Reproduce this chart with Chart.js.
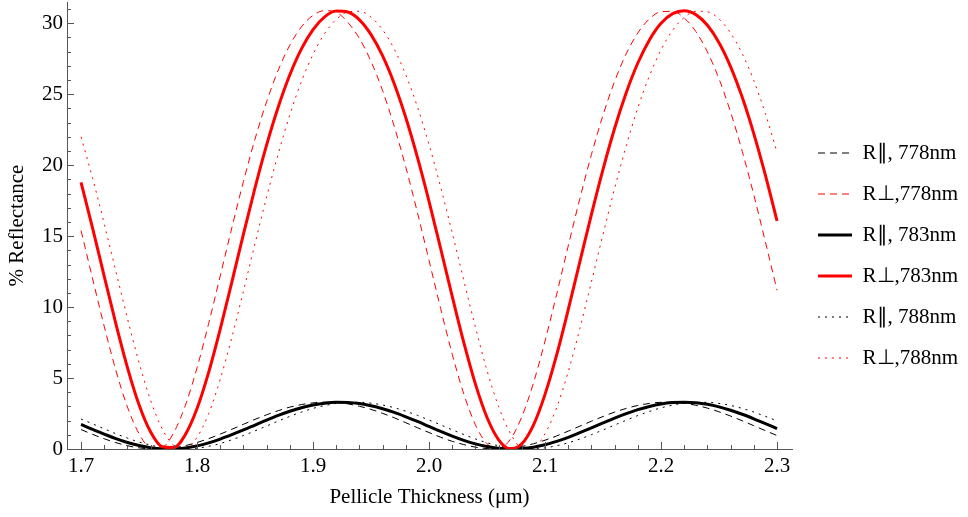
<!DOCTYPE html>
<html>
<head>
<meta charset="utf-8">
<script src="https://cdn.jsdelivr.net/npm/chart.js@4"></script>
<style>
  html, body { margin: 0; padding: 0; background: #ffffff; }
  #c { display: block; }
</style>
</head>
<body>
<canvas id="c" width="968" height="517"></canvas>
<script>
// ---- data ----
const thickness = [
  1.70, 1.71, 1.72, 1.73, 1.74, 1.75, 1.76, 1.77, 1.78, 1.79,
  1.80, 1.81, 1.82, 1.83, 1.84, 1.85, 1.86, 1.87, 1.88, 1.89,
  1.90, 1.91, 1.92, 1.93, 1.94, 1.95, 1.96, 1.97, 1.98, 1.99,
  2.00, 2.01, 2.02, 2.03, 2.04, 2.05, 2.06, 2.07, 2.08, 2.09,
  2.10, 2.11, 2.12, 2.13, 2.14, 2.15, 2.16, 2.17, 2.18, 2.19,
  2.20, 2.21, 2.22, 2.23, 2.24, 2.25, 2.26, 2.27, 2.28, 2.29,
  2.30
];

const rPar778 = [
  1.37, 1.03, 0.72, 0.45, 0.23, 0.08, 0.01, 0.01, 0.09, 0.24,
  0.46, 0.73, 1.05, 1.39, 1.74, 2.09, 2.41, 2.70, 2.95, 3.13,
  3.25, 3.30, 3.28, 3.18, 3.01, 2.79, 2.51, 2.20, 1.85, 1.50,
  1.16, 0.83, 0.54, 0.31, 0.13, 0.03, 0.00, 0.05, 0.18, 0.37,
  0.62, 0.92, 1.26, 1.61, 1.96, 2.29, 2.60, 2.86, 3.07, 3.21,
  3.29, 3.29, 3.22, 3.08, 2.88, 2.62, 2.32, 1.99, 1.64, 1.29,
  0.95
];
const rPerp778 = [
  15.39, 11.99, 8.64, 5.55, 2.96, 1.08, 0.11, 0.14, 1.17, 3.09,
  5.72, 8.84, 12.20, 15.59, 18.85, 21.85, 24.48, 26.70, 28.46, 29.75,
  30.56, 30.89, 30.78, 30.06, 28.93, 27.31, 25.24, 22.73, 19.85, 16.66,
  13.29, 9.90, 6.68, 3.87, 1.70, 0.37, 0.01, 0.67, 2.27, 4.65,
  7.61, 10.90, 14.31, 17.64, 20.75, 23.53, 25.91, 27.85, 29.32, 30.31,
  30.82, 30.84, 30.37, 29.42, 27.98, 26.08, 23.73, 20.98, 17.90, 14.58,
  11.18
];
const rPar783 = [
  1.73, 1.38, 1.05, 0.73, 0.46, 0.25, 0.09, 0.01, 0.01, 0.08,
  0.22, 0.43, 0.70, 1.01, 1.34, 1.69, 2.04, 2.37, 2.66, 2.91,
  3.10, 3.23, 3.29, 3.28, 3.20, 3.05, 2.84, 2.58, 2.27, 1.94,
  1.59, 1.24, 0.91, 0.61, 0.36, 0.17, 0.05, 0.00, 0.03, 0.13,
  0.30, 0.54, 0.82, 1.15, 1.49, 1.84, 2.18, 2.49, 2.77, 3.00,
  3.17, 3.27, 3.30, 3.26, 3.15, 2.97, 2.73, 2.45, 2.13, 1.79,
  1.44
];
const rPerp783 = [
  18.79, 15.55, 12.17, 8.83, 5.74, 3.12, 1.20, 0.16, 0.10, 1.03,
  2.85, 5.40, 8.45, 11.76, 15.14, 18.41, 21.43, 24.10, 26.37, 28.20,
  29.56, 30.45, 30.86, 30.79, 30.24, 29.20, 27.70, 25.74, 23.34, 20.55,
  17.45, 14.13, 10.75, 7.49, 4.57, 2.22, 0.65, 0.01, 0.37, 1.69,
  3.85, 6.63, 9.82, 13.19, 16.54, 19.71, 22.60, 25.11, 27.20, 28.83,
  30.00, 30.68, 30.89, 30.61, 29.86, 28.63, 26.93, 24.78, 22.21, 19.28,
  16.08
];
const rPar788 = [
  2.11, 1.77, 1.42, 1.08, 0.77, 0.49, 0.27, 0.11, 0.02, 0.00,
  0.06, 0.19, 0.39, 0.65, 0.95, 1.28, 1.62, 1.97, 2.30, 2.60,
  2.86, 3.06, 3.21, 3.28, 3.29, 3.23, 3.10, 2.91, 2.66, 2.37,
  2.04, 1.70, 1.35, 1.02, 0.71, 0.44, 0.23, 0.09, 0.01, 0.01,
  0.08, 0.23, 0.44, 0.70, 1.01, 1.34, 1.69, 2.03, 2.36, 2.65,
  2.90, 3.09, 3.23, 3.29, 3.29, 3.21, 3.07, 2.86, 2.60, 2.30,
  1.98
];
const rPerp788 = [
  22.00, 19.07, 15.87, 12.53, 9.20, 6.09, 3.42, 1.41, 0.25, 0.04,
  0.82, 2.49, 4.91, 7.87, 11.13, 14.49, 17.76, 20.81, 23.55, 25.90,
  27.81, 29.28, 30.27, 30.80, 30.85, 30.43, 29.54, 28.18, 26.36, 24.11,
  21.45, 18.46, 15.23, 11.87, 8.58, 5.53, 2.98, 1.12, 0.13, 0.12,
  1.08, 2.91, 5.45, 8.48, 11.78, 15.13, 18.37, 21.37, 24.04, 26.30,
  28.13, 29.51, 30.41, 30.85, 30.81, 30.30, 29.31, 27.86, 25.96, 23.62,
  20.90
];

const seriesLabels = [
  'R\u2225, 778nm', 'R\u22A5,778nm',
  'R\u2225, 783nm', 'R\u22A5,783nm',
  'R\u2225, 788nm', 'R\u22A5,788nm'
];

const xMajorTicks = [1.7, 1.8, 1.9, 2.0, 2.1, 2.2, 2.3];
const xMinorTicks = [
  1.72, 1.74, 1.76, 1.78, 1.82, 1.84, 1.86, 1.88, 1.92, 1.94, 1.96, 1.98,
  2.02, 2.04, 2.06, 2.08, 2.12, 2.14, 2.16, 2.18, 2.22, 2.24, 2.26, 2.28
];
const yMajorTicks = [0, 5, 10, 15, 20, 25, 30];
const yMinorTicks = [
  1, 2, 3, 4, 6, 7, 8, 9, 11, 12, 13, 14, 16, 17, 18, 19,
  21, 22, 23, 24, 26, 27, 28, 29, 31
];

// ---- styling ----
const serif = "'Liberation Serif', 'Times New Roman', Times, serif";
const axisColor = '#555555';
const RED = '#ff0000';
const BLACK = '#000000';

const pts = (ys) => thickness.map((x, i) => ({ x: x, y: ys[i] }));

function ds(label, ys, color, width, dash, order) {
  return {
    label: label,
    data: pts(ys),
    borderColor: color,
    backgroundColor: color,
    pointBorderColor: color,
    pointBackgroundColor: color,
    borderWidth: width,
    borderDash: dash,
    pointRadius: 0,
    pointHoverRadius: 0,
    pointStyle: 'line',
    fill: false,
    cubicInterpolationMode: 'monotone',
    order: order
  };
}

const inwardTicks = {
  id: 'inwardTicks',
  afterDraw(chart) {
    const { ctx, chartArea: a, scales: { x, y } } = chart;
    ctx.save();
    ctx.strokeStyle = axisColor;
    ctx.lineWidth = 1;
    ctx.beginPath();
    const xt = (v, len) => {
      const px = Math.round(x.getPixelForValue(v)) + 0.5;
      ctx.moveTo(px, a.bottom);
      ctx.lineTo(px, a.bottom - len);
    };
    const yt = (v, len) => {
      const py = Math.round(y.getPixelForValue(v)) + 0.5;
      ctx.moveTo(a.left, py);
      ctx.lineTo(a.left + len, py);
    };
    xMajorTicks.forEach(v => xt(v, 7));
    xMinorTicks.forEach(v => xt(v, 4));
    yMajorTicks.forEach(v => yt(v, 7));
    yMinorTicks.forEach(v => yt(v, 4));
    ctx.stroke();
    ctx.restore();
  }
};

const legendPlacement = {
  id: 'legendPlacement',
  afterInit(chart) {
    const lg = chart.legend;
    const fit = lg.fit;
    lg.fit = function () { fit.call(this); this.width = 176; };
  },
  afterLayout(chart) {
    const lg = chart.legend;
    lg.left += 6; lg.right += 6;
    lg.top -= 4; lg.bottom -= 4;
  }
};

const datasets = [
  ds(seriesLabels[0], rPar778, BLACK, 1, [7, 5], 4),
  ds(seriesLabels[1], rPerp778, RED, 1, [7, 5], 2),
  ds(seriesLabels[2], rPar783, BLACK, 3, [], 1),
  ds(seriesLabels[3], rPerp783, RED, 3, [], 0),
  ds(seriesLabels[4], rPar788, BLACK, 1, [2, 5], 5),
  ds(seriesLabels[5], rPerp788, RED, 1, [2, 5], 3)
];

new Chart(document.getElementById('c'), {
  type: 'line',
  data: { datasets: datasets },
  options: {
    responsive: false,
    animation: false,
    events: [],
    layout: { padding: { top: 2, left: 0, right: 0, bottom: 0 } },
    plugins: {
      tooltip: { enabled: false },
      legend: {
        display: true,
        position: 'right',
        align: 'center',
        labels: {
          usePointStyle: true,
          pointStyle: 'line',
          pointStyleWidth: 34,
          boxWidth: 34,
          padding: 20,
          color: '#000000',
          font: { family: serif, size: 21 },
          sort: (a, b) => a.datasetIndex - b.datasetIndex,
          generateLabels: (chart) => {
            const items = Chart.defaults.plugins.legend.labels.generateLabels(chart);
            return items.map(it => {
              const d = datasets[it.datasetIndex];
              return Object.assign({}, it, {
                lineDash: d.borderDash.slice(),
                lineWidth: d.borderWidth,
                strokeStyle: d.borderColor,
                fillStyle: d.borderColor,
                lineCap: 'butt'
              });
            });
          }
        }
      }
    },
    scales: {
      x: {
        type: 'linear',
        min: 1.6879,
        max: 2.3129,
        grid: { display: false, drawTicks: false },
        border: { display: true, color: axisColor, width: 1 },
        afterBuildTicks: (scale) => { scale.ticks = xMajorTicks.map(v => ({ value: v })); },
        afterFit: (scale) => { scale.height = 68; scale.paddingLeft = 0; scale.paddingRight = 0; },
        ticks: {
          padding: 5,
          color: '#000000',
          font: { family: serif, size: 21 },
          maxRotation: 0,
          autoSkip: false,
          callback: (v) => Number(v).toFixed(1)
        },
        title: {
          display: true,
          text: 'Pellicle Thickness (\u03BCm)',
          color: '#000000',
          font: { family: serif, size: 21 },
          padding: { top: 0, bottom: 7 }
        }
      },
      y: {
        type: 'linear',
        min: 0,
        max: 31.5,
        grid: { display: false, drawTicks: false },
        border: { display: true, color: axisColor, width: 1 },
        afterBuildTicks: (scale) => { scale.ticks = yMajorTicks.map(v => ({ value: v })); },
        afterFit: (scale) => { scale.width = 67; scale.paddingTop = 0; scale.paddingBottom = 0; },
        ticks: {
          padding: 4,
          color: '#000000',
          font: { family: serif, size: 21 },
          autoSkip: false,
          callback: (v) => String(v)
        },
        title: {
          display: true,
          text: '% Reflectance',
          color: '#000000',
          font: { family: serif, size: 21 },
          padding: { top: 5, bottom: 0 }
        }
      }
    }
  },
  plugins: [inwardTicks, legendPlacement]
});
</script>
</body>
</html>
